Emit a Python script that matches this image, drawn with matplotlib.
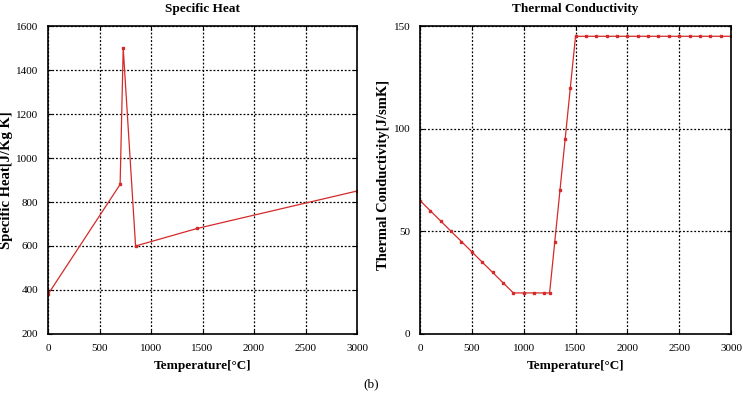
import matplotlib
matplotlib.use('Agg')
import matplotlib.pyplot as plt

plt.rcParams['font.family'] = ['Liberation Serif', 'DejaVu Serif']

# specific heat
cp_T = [0, 700, 730, 850, 1450, 3000]
cp_val = [380, 880, 1500, 600, 680, 850]

# thermal conductivity
k_T = [0, 100, 200, 300, 400, 500, 600, 700, 800, 900, 1000, 1100, 1200, 1250,
       1300, 1350, 1400, 1450, 1500, 1600, 1700, 1800, 1900, 2000, 2100, 2200,
       2300, 2400, 2500, 2600, 2700, 2800, 2900, 3000]
k_val = [65, 60, 55, 50, 45, 40, 35, 30, 25, 20, 20, 20, 20, 20,
         45, 70, 95, 120, 145, 145, 145, 145, 145, 145, 145, 145,
         145, 145, 145, 145, 145, 145, 145, 145]

xticks = [0, 500, 1000, 1500, 2000, 2500, 3000]
red = '#d42a2a'

fig = plt.figure(figsize=(7.43, 4.04), dpi=100)
ax1 = fig.add_axes([0.0646, 0.1733, 0.416, 0.7623])
ax2 = fig.add_axes([0.5653, 0.1733, 0.4186, 0.7623])


def style(ax):
    ax.set_xlim(0, 3000)
    ax.set_xticks(xticks)
    ax.grid(True, color='black', linestyle=(0, (1.5, 1.5)), linewidth=0.9)
    ax.tick_params(direction='in', top=True, right=True, labelsize=8, length=3, pad=7)
    for s in ax.spines.values():
        s.set_linewidth(1.2)
    ax.set_xlabel('Temperature[°C]', fontsize=9.5, fontweight='bold', labelpad=5)


ax1.plot(cp_T, cp_val, color=red, lw=0.9, marker='s', ms=1.8)
ax1.set_ylim(200, 1600)
ax1.set_yticks(range(200, 1601, 200))
style(ax1)
ax1.set_ylabel('Specific Heat[J/Kg K]', fontsize=10.5, fontweight='bold')
ax1.yaxis.set_label_coords(-0.114, 0.5)
ax1.set_title('Specific Heat', fontsize=9.5, fontweight='bold', pad=10)

ax2.plot(k_T, k_val, color=red, lw=0.9, marker='s', ms=1.8)
ax2.set_ylim(0, 150)
ax2.set_yticks([0, 50, 100, 150])
style(ax2)
ax2.set_ylabel('Thermal Conductivity[J/smK]', fontsize=10.5, fontweight='bold')
ax2.yaxis.set_label_coords(-0.097, 0.517)
ax2.set_title('Thermal Conductivity', fontsize=9.5, fontweight='bold', pad=10)

fig.text(0.4993, 0.05, '(b)', ha='center', va='center', fontsize=9.5)

fig.savefig('out.png', dpi=100)
